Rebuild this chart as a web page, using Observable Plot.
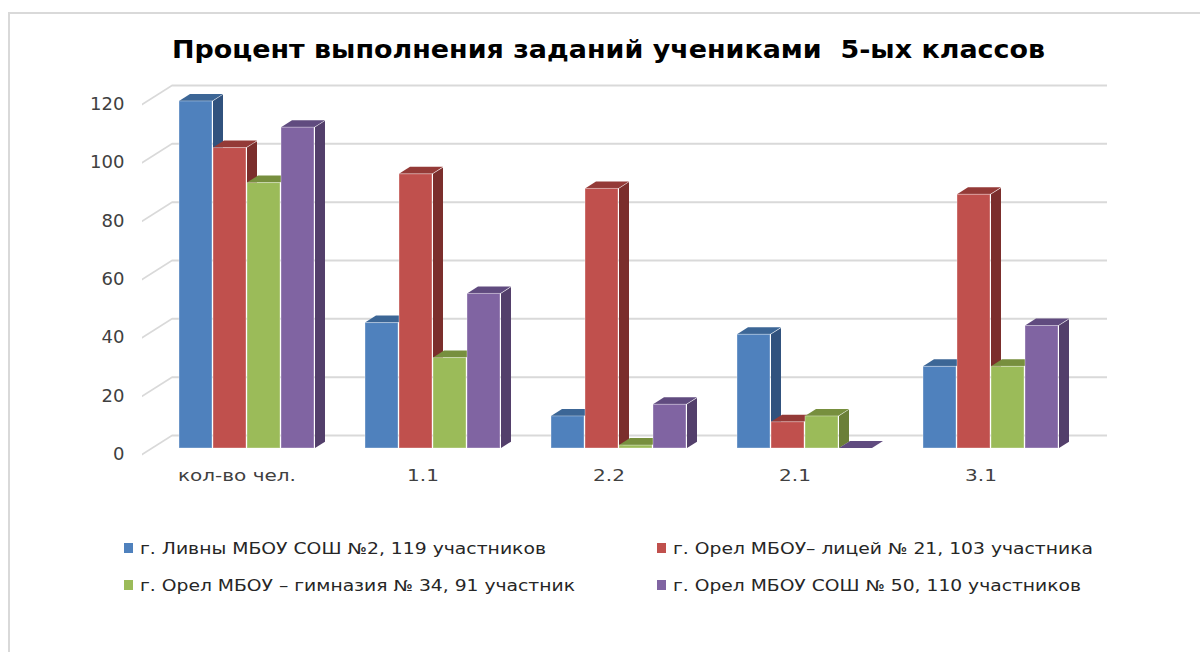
<!DOCTYPE html>
<html><head><meta charset="utf-8">
<script src="https://cdn.jsdelivr.net/npm/d3@7"></script>
<script src="https://cdn.jsdelivr.net/npm/@observablehq/plot@0.6"></script>
<style>
body{margin:0;background:#fff;}
#wrap{position:relative;width:1200px;height:652px;overflow:hidden;background:#fff;}
#frame{position:absolute;left:8px;top:12px;width:1300px;height:700px;border-top:2px solid #d9d9d9;border-left:2px solid #d9d9d9;z-index:5;pointer-events:none;}
#wrap svg{position:absolute;left:0;}
</style></head><body><div id="wrap"><div id="frame"></div></div>
<script>
// ---- data ----
const title = "Процент выполнения заданий учениками  5-ых классов";
const categories = ["кол-во чел.", "1.1", "2.2", "2.1", "3.1"];
const seriesNames = [
  "г. Ливны МБОУ СОШ №2, 119 участников",
  "г. Орел МБОУ– лицей № 21, 103 участника",
  "г. Орел МБОУ – гимназия № 34, 91 участник",
  "г. Орел МБОУ СОШ № 50, 110 участников"
];
const livny2 = [119, 43, 11, 39, 28];
const licey21 = [103, 94, 89, 9, 87];
const gymn34 = [91, 31, 1, 11, 28];
const sosh50 = [110, 53, 15, 0, 42];
const yTicks = [0, 20, 40, 60, 80, 100, 120];
const frontColors = ["#4f81bd", "#c0504d", "#9bbb59", "#8064a2"];
const sideColors = ["#31527e", "#7b2e2c", "#6b7f38", "#533f6b"];
const topColors = ["#3c6696", "#943a37", "#778f3e", "#604b7f"];

const seriesValues = [livny2, licey21, gymn34, sosh50];
const rows = seriesValues.map((vals, s) => categories.map((c, k) => ({cat: c, series: s, value: vals[k]})));

// ---- geometry (styling) ----
const barW = 34, depthX = 11, depthY = 7;
const W = 1200, H = 500;
const mL = 126, mR = 88, mT = 98, mB = 52;

const marks = [];
// back wall gridlines
marks.push(Plot.ruleY(yTicks, {y: d => d, dy: -13, insetLeft: 46, insetRight: 5, stroke: "#d9d9d9", strokeWidth: 2}));
// left wall diagonal connectors
marks.push(Plot.ruleY(yTicks, {y: d => d, dy: 6, insetLeft: 16, insetRight: (W - mL - mR) - 46, stroke: "#d9d9d9", strokeWidth: 2, className: "diag"}));
for (let s = 0; s < 4; s++) {
  marks.push(Plot.barY(rows[s], {x: "cat", y: "value", fill: sideColors[s], insetLeft: barW * (s + 1), insetRight: barW * (3 - s) - depthX, className: "side"}));
  marks.push(Plot.barY(rows[s], {x: "cat", y1: "value", y2: "value", fill: topColors[s], insetLeft: barW * s, insetRight: barW * (3 - s), insetTop: -depthY, insetBottom: 0, className: "topface"}));
  marks.push(Plot.barY(rows[s], {x: "cat", y: "value", fill: frontColors[s], stroke: "#ffffff", strokeOpacity: 0.35, strokeWidth: 1, insetLeft: barW * s, insetRight: barW * (3 - s)}));
}
marks.push(Plot.axisY(yTicks, {tickSize: 0, tickPadding: 2, dy: 6, fontSize: 17, label: null, className: "yax"}));
marks.push(Plot.axisX({tickSize: 0, tickPadding: 21, dx: -10, fontSize: 16, label: null, className: "xax"}));

const chart = Plot.plot({
  width: W, height: H,
  marginLeft: mL, marginRight: mR, marginTop: mT, marginBottom: mB,
  x: {domain: categories, padding: 51 / 187, axis: null},
  y: {domain: [0, 120], axis: null},
  style: {background: "transparent", fontFamily: "DejaVu Sans", color: "#404040"},
  marks
});
chart.style.top = "0px";
const wrap = document.getElementById("wrap");
wrap.appendChild(chart);

// 3D skew of faces
const aSide = Math.atan(depthY / depthX) * 180 / Math.PI;
const aTop = Math.atan(depthX / depthY) * 180 / Math.PI;
d3.select(chart).selectAll(".side rect").each(function() {
  const x = +this.getAttribute("x");
  this.setAttribute("transform", `translate(${x},0) skewY(${-aSide}) translate(${-x},0)`);
});
d3.select(chart).selectAll(".topface rect").each(function() {
  const yb = +this.getAttribute("y") + +this.getAttribute("height");
  this.setAttribute("transform", `translate(0,${yb}) skewX(${-aTop}) translate(0,${-yb})`);
});
const aDiag = Math.atan(19 / 30) * 180 / Math.PI;
d3.select(chart).selectAll(".diag line").each(function() {
  const x1 = +this.getAttribute("x1"), y1 = +this.getAttribute("y1");
  this.setAttribute("transform", `translate(${x1},${y1}) skewY(${-aDiag}) translate(${-x1},${-y1})`);
});
// horizontal stretch of axis labels
function stretch(sel, f) {
  sel.each(function() {
    const len = this.getComputedTextLength();
    this.setAttribute("textLength", len * f);
    this.setAttribute("lengthAdjust", "spacingAndGlyphs");
  });
}
stretch(d3.select(chart).selectAll(".yax text"), 1.06);
stretch(d3.select(chart).selectAll(".xax text"), 1.25);

// ---- title ----
const tsvg = d3.select(wrap).append("svg").attr("width", W).attr("height", 80).style("top", "0px");
tsvg.append("text").attr("x", 172).attr("y", 58)
  .attr("font-family", "DejaVu Sans").attr("font-weight", "bold").attr("font-size", 24)
  .attr("fill", "#000").attr("textLength", 873).attr("lengthAdjust", "spacingAndGlyphs")
  .style("white-space", "pre")
  .text(title);

// ---- legend ----
const lsvg = d3.select(wrap).append("svg").attr("width", W).attr("height", 152).style("top", "500px");
const legX = [124, 657], legY = [48, 85];
const legW = [406, 420, 435, 408];
seriesNames.forEach((name, s) => {
  const col = s % 2, row = Math.floor(s / 2);
  lsvg.append("rect").attr("x", legX[col]).attr("y", legY[row] - 5).attr("width", 9).attr("height", 10).attr("fill", frontColors[s]);
  lsvg.append("text").attr("x", legX[col] + 16).attr("y", legY[row] + 6)
    .attr("font-family", "DejaVu Sans").attr("font-size", 15).attr("fill", "#262626")
    .attr("textLength", legW[s]).attr("lengthAdjust", "spacingAndGlyphs")
    .text(name);
});
</script></body></html>
